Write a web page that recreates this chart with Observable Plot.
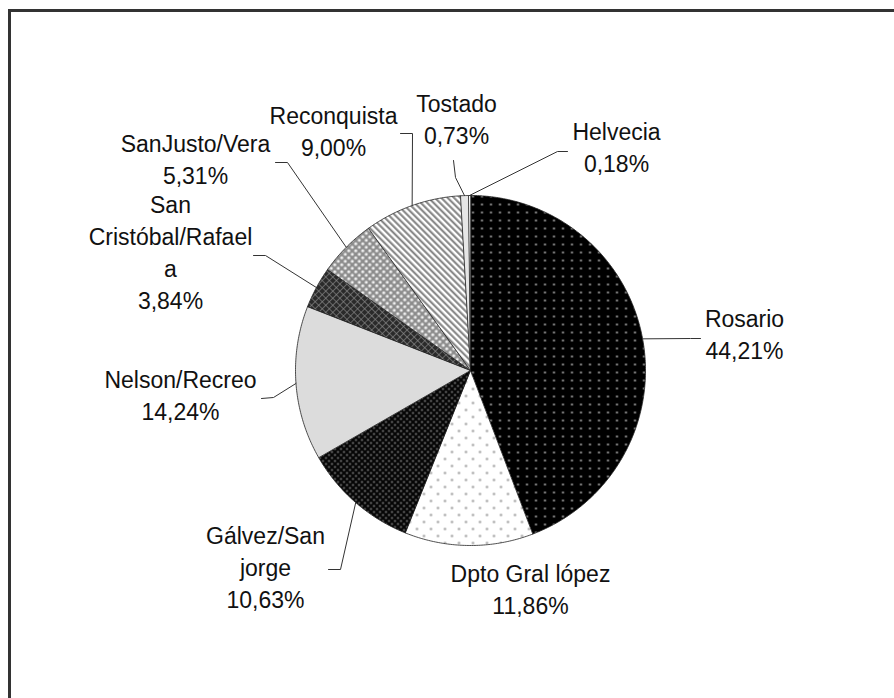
<!DOCTYPE html>
<html>
<head>
<meta charset="utf-8">
<script src="https://cdn.jsdelivr.net/npm/d3@7"></script>
<script src="https://cdn.jsdelivr.net/npm/@observablehq/plot@0.6"></script>
<style>
  html, body { margin: 0; padding: 0; background: #fff; overflow: hidden; }
</style>
</head>
<body>
<div id="chart"></div>
<script>
// ---- data ----
const regions = ["Rosario", "Dpto Gral lópez", "Gálvez/San jorge", "Nelson/Recreo", "San Cristóbal/Rafaela", "SanJusto/Vera", "Reconquista", "Tostado", "Helvecia"];
const shares = [44.21, 11.86, 10.63, 14.24, 3.84, 5.31, 9.00, 0.73, 0.18];
const nameLines = ["Rosario", "Dpto Gral lópez", "Gálvez/San\njorge", "Nelson/Recreo", "San\nCristóbal/Rafael\na", "SanJusto/Vera", "Reconquista", "Tostado", "Helvecia"];

// ---- layout (pixels) ----
const pieCenter = [470, 370];
const pieRadius = 175;
// label anchor: center x, baseline of last line
const labelX = [744, 530, 265, 180, 170, 195, 333, 456, 616];
const labelY = [358, 613, 607, 419, 308, 183, 155, 143, 171];
// leader lines: [end, elbow] (null = none)
const leaderEnd = [[700, 338], null, [328, 569], [261, 398], [253, 255], [275, 162], [400, 133], [453, 160], [567, 151]];
const leaderElbow = [[690, 338], null, [340, 569], [273, 397], [265, 255], [287, 162], [412, 133], [455, 177], [557, 151]];
const patternIds = ["pRos", "pDpto", "pGal", "pNel", "pSCr", "pSJu", "pRec", "pTos", "pHel"];

// ---- build geometry from data ----
const [cx, cy] = pieCenter;
const arcs = d3.pie().sort(null).value(d => d)(shares);
const pt = a => ({x: cx + pieRadius * Math.sin(a), y: cy - pieRadius * Math.cos(a)});

const slices = arcs.map((a, i) => {
  const pts = [{x: cx, y: cy}];
  const n = Math.max(2, Math.ceil((a.endAngle - a.startAngle) / 0.01));
  for (let k = 0; k <= n; ++k) pts.push(pt(a.startAngle + (a.endAngle - a.startAngle) * k / n));
  return {id: regions[i], pat: patternIds[i], pts};
});

const leaders = [];
arcs.forEach((a, i) => {
  if (!leaderEnd[i]) return;
  const mid = pt((a.startAngle + a.endAngle) / 2);
  leaders.push({id: regions[i], x: leaderEnd[i][0], y: leaderEnd[i][1]});
  leaders.push({id: regions[i], x: leaderElbow[i][0], y: leaderElbow[i][1]});
  leaders.push({id: regions[i], x: mid.x, y: mid.y});
});

const fmt = v => d3.format(".2f")(v).replace(".", ",") + "%";
const labels = shares.map((v, i) => ({x: labelX[i], y: labelY[i], text: nameLines[i] + "\n" + fmt(v)}));

const chart = Plot.plot({
  width: 894,
  height: 698,
  margin: 0,
  x: {domain: [0, 894], range: [0, 894], axis: null},
  y: {domain: [0, 698], range: [0, 698], axis: null},
  style: {fontFamily: "'Liberation Sans', Arial, sans-serif", background: "#fff", overflow: "hidden"},
  marks: [
    ...slices.map(s => Plot.line(s.pts, {x: "x", y: "y", curve: "linear-closed", fill: `url(#${s.pat})`, stroke: "#222", strokeWidth: 0.8})),
    Plot.line(leaders, {x: "x", y: "y", z: "id", stroke: "#333", strokeWidth: 1}),
    Plot.text(labels, {x: "x", y: "y", text: "text", fontSize: 23, lineHeight: 1.39, lineAnchor: "bottom", textAnchor: "middle", fill: "#111"}),
    Plot.frame({stroke: "#333", strokeWidth: 3, insetLeft: 9, insetTop: 10, insetRight: -20, insetBottom: -20})
  ]
});

// ---- fill patterns ----
const defs = d3.select(chart).insert("defs", ":first-child");
function pattern(id, w, h, bg, transform) {
  const p = defs.append("pattern").attr("id", id).attr("width", w).attr("height", h).attr("patternUnits", "userSpaceOnUse");
  if (transform) p.attr("patternTransform", transform);
  if (bg) p.append("rect").attr("width", w).attr("height", h).attr("fill", bg);
  return p;
}
function dot(p, x, y, r, c) { p.append("circle").attr("cx", x).attr("cy", y).attr("r", r).attr("fill", c); }
// Rosario: black with grey dots
{ const p = pattern("pRos", 9, 8, "#000"); dot(p, 4.5, 4, 1.1, "#b0b0b0"); }
// Dpto: white with grey dots (staggered)
{ const p = pattern("pDpto", 14, 14, "#fff"); dot(p, 3.5, 3.5, 1.2, "#a0a0a0"); dot(p, 10.5, 10.5, 1.2, "#a0a0a0"); }
// Gálvez: black with fine grey dots (staggered)
{ const p = pattern("pGal", 6, 6, "#050505"); dot(p, 1.5, 1.5, 0.95, "#8a8a8a"); dot(p, 4.5, 4.5, 0.95, "#8a8a8a"); }
// Nelson: light grey solid
pattern("pNel", 4, 4, "#dcdcdc");
// San Cristóbal: dark crosshatch
{ const p = pattern("pSCr", 5, 5, "#2a2a2a", "rotate(45)");
  p.append("line").attr("x1", 0).attr("y1", 0).attr("x2", 0).attr("y2", 5).attr("stroke", "#8a8a8a").attr("stroke-width", 1.3);
  p.append("line").attr("x1", 0).attr("y1", 0).attr("x2", 5).attr("y2", 0).attr("stroke", "#8a8a8a").attr("stroke-width", 1.3); }
// SanJusto: grey with white dots (diagonal lattice)
{ const p = pattern("pSJu", 7, 7, "#8c8c8c"); dot(p, 1.75, 1.75, 1.5, "#f2f2f2"); dot(p, 5.25, 5.25, 1.5, "#f2f2f2"); }
// Reconquista: diagonal stripes "\"
{ const p = pattern("pRec", 4.5, 4.5, "#fff", "rotate(-45)");
  p.append("line").attr("x1", 1.2).attr("y1", 0).attr("x2", 1.2).attr("y2", 4.5).attr("stroke", "#808080").attr("stroke-width", 2); }
// Tostado: very light
pattern("pTos", 4, 4, "#e6e6e6");
// Helvecia: white
pattern("pHel", 4, 4, "#ffffff");

document.getElementById("chart").appendChild(chart);
</script>
</body>
</html>
